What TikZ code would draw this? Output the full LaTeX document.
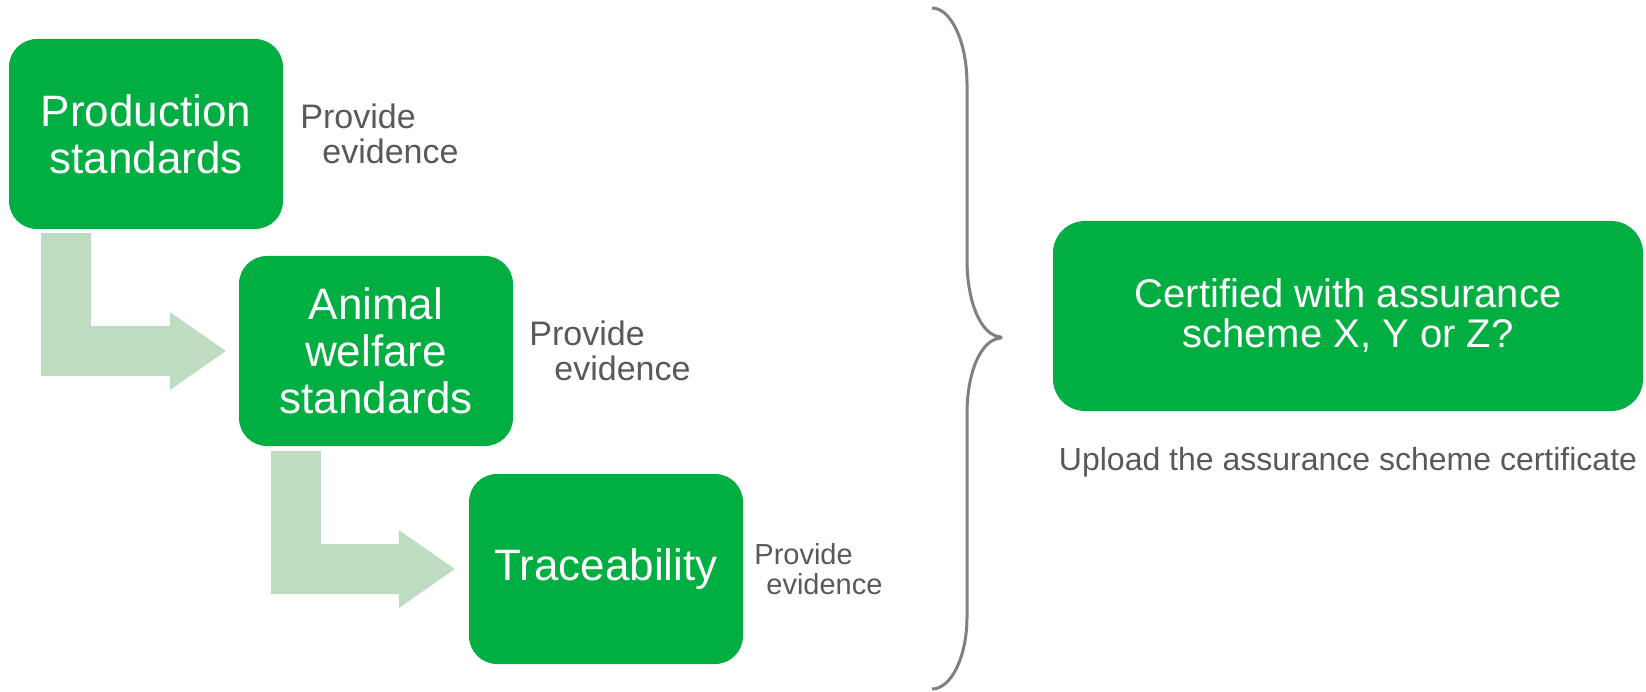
\documentclass[tikz,border=0pt]{standalone}
\usepackage{fontspec}
\setmainfont{Liberation Sans}
\usetikzlibrary{positioning,arrows.meta,calc}
\definecolor{boxgreen}{RGB}{0,174,66}
\definecolor{bendgreen}{RGB}{190,220,194}
\definecolor{notegray}{RGB}{89,89,89}
\definecolor{bracegray}{RGB}{128,128,128}
\begin{document}
\begin{tikzpicture}[x=1pt,y=1pt,
    stage/.style={rectangle,rounded corners=28pt,fill=boxgreen,text=white,
      minimum width=274pt,minimum height=190pt,align=center,
      font=\fontsize{44}{47}\selectfont},
    evid/.style={align=left,text=notegray,inner sep=0pt,
      font=\fontsize{34}{35}\selectfont},
    stepconn/.style={line width=50pt,draw=bendgreen,line join=miter,
      -{Triangle[length=56pt,width=78pt,line width=0pt]}}]
    
    \useasboundingbox (0,0) rectangle (1646,-692);
    
    % left column
    \node[stage] (prod) at (146,-134) {Production\\standards};
    \node[stage] (welf) at (376,-351) {Animal\\welfare\\standards};
    \node[stage] (trace) at (606,-569) {Traceability};
    
    \node[evid,right=17pt of prod] (ev1) {Provide\\\hspace*{22pt}evidence};
    \node[evid,right=16pt of welf] (ev2) {Provide\\\hspace*{25pt}evidence};
    \node[evid,right=11pt of trace,font=\fontsize{29}{30}\selectfont] (ev3)
      {Provide\\\hspace*{12pt}evidence};
    
    \draw[stepconn] ($(prod.south west)+(57.5,-4)$) |- ($(welf.west)+(-13,0)$);
    \draw[stepconn] ($(welf.south west)+(57,-5)$) |- ($(trace.west)+(-14,0)$);
    
    % brace
    \draw[bracegray,line width=3pt,line join=round] (932,-8) .. controls (951,-8) and (967,-42) .. (967,-84)
      -- (967,-260) .. controls (967,-302) and (981,-336) .. (1001,-337)
      -- (1001,-338) .. controls (981,-339) and (967,-372) .. (967,-414)
      -- (967,-617) .. controls (967,-657) and (951,-689) .. (932,-689);
    
    % right side
    \node[stage,rounded corners=32pt,minimum width=590pt,minimum height=190pt,
      font=\fontsize{40}{40}\selectfont] (cert) at (1348,-316)
      {Certified with assurance\\scheme X, Y or Z?};
    \node[evid,align=center,below=36pt of cert,font=\fontsize{32}{34}\selectfont] (upl)
      {Upload the assurance scheme certificate};
    
\end{tikzpicture}
\end{document}
